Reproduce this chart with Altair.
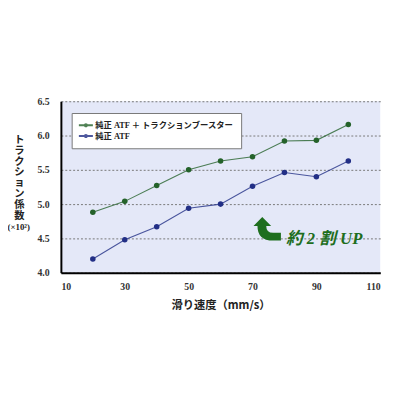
import altair as alt
import pandas as pd

speeds = [20, 30, 40, 50, 60, 70, 80, 90, 100]
booster = [4.88, 5.04, 5.27, 5.50, 5.63, 5.69, 5.92, 5.93, 6.16]
atf = [4.20, 4.48, 4.67, 4.94, 5.00, 5.26, 5.46, 5.40, 5.63]
series = ["純正 ATF ＋ トラクションブースター", "純正 ATF"]
colors = ["#24622a", "#222f86"]
x_ticks = [10, 30, 50, 70, 90, 110]
y_ticks = [4.0, 4.5, 5.0, 5.5, 6.0, 6.5]
y_title_chars = list("トラクション係数")

rows = []
for s, vals in zip(series, [booster, atf]):
    for x, y in zip(speeds, vals):
        rows.append({"speed": x, "coef": y, "series": s})
df = pd.DataFrame(rows)

SERIF = "Liberation Serif, Noto Sans CJK JP"
CJK = "Noto Sans CJK JP"

xs = alt.Scale(domain=[10, 110], nice=False, zero=False)
ys = alt.Scale(domain=[4.0, 6.5], nice=False, zero=False)

legend_path = "M-1.6,0L1.6,0M0.25,0A0.25,0.25 0 1,1 -0.25,0A0.25,0.25 0 1,1 0.25,0"

color = alt.Color(
    "series:N",
    scale=alt.Scale(domain=series, range=colors),
    legend=alt.Legend(
        title=None, orient="none", legendX=11, legendY=12,
        fillColor="white", strokeColor="#777777", padding=7,
        labelFont=SERIF, labelFontSize=8.5, labelFontWeight="bold", labelColor="#222222",
        symbolType=legend_path, symbolSize=80, symbolStrokeWidth=2.0,
        rowPadding=0, labelLimit=300, symbolOffset=2,
    ),
)

x_axis = alt.Axis(
    values=x_ticks, grid=False, ticks=False, domainColor="black", domainWidth=2,
    labelFont=SERIF, labelFontWeight="bold", labelFontSize=10, labelColor="#333333",
    labelPadding=9, labelOverlap=False,
    title="滑り速度（mm/s）", titleFont=CJK, titleFontWeight="bold",
    titleFontSize=11.5, titleColor="#222222", titlePadding=9,
)
y_axis = alt.Axis(
    values=y_ticks, format=".1f", ticks=False, domainColor="black", domainWidth=2,
    grid=True, gridDash=[2, 2], gridColor="#777777", gridWidth=1,
    labelFont=SERIF, labelFontWeight="bold", labelFontSize=10, labelColor="#333333",
    labelPadding=12, labelOverlap=False, labelFlush=False,
    title=y_title_chars, titleAngle=0, titleFont=CJK, titleFontWeight="bold",
    titleFontSize=10.5, titleColor="#222222", titleX=-43, titleY=34,
    titleBaseline="top", titleAlign="center", titleLineHeight=11.1,
)


def X(field):
    return alt.X(field, scale=xs, axis=x_axis)


def Y(field):
    return alt.Y(field, scale=ys, axis=y_axis)


lines = alt.Chart(df).mark_line(strokeWidth=1.1, opacity=0.8).encode(
    x=X("speed:Q"), y=Y("coef:Q"), color=color, detail="series:N"
)
points = alt.Chart(df).mark_point(filled=True, size=32, opacity=1).encode(
    x=X("speed:Q"), y=Y("coef:Q"), color=color
)

unit_label = alt.Chart(pd.DataFrame({"t": ["(×10²)"]})).mark_text(
    font=SERIF, fontSize=9, fontWeight="bold", color="#222222"
).encode(text="t:N", x=alt.value(-43), y=alt.value(128))

ann = pd.DataFrame({"x": [74.6], "y": [4.64], "tx": [80.5], "ty": [4.49], "t": ["約 2 割 UP"]})
arrow_path = ("M-0.36,-0.86L0.29,-0.21L-0.07,-0.21Q-0.07,0.29 0.43,0.29L1,0.29L1,0.86"
              "L0.43,0.86Q-0.71,0.86 -0.71,-0.21L-1,-0.21Z")
arrow = alt.Chart(ann).mark_point(
    shape=arrow_path, filled=True, size=784, color="#1e6e1e", opacity=1
).encode(x=X("x:Q"), y=Y("y:Q"))
ann_text = alt.Chart(ann).mark_text(
    font=SERIF, fontSize=17, fontWeight="bold", fontStyle="italic", color="#1e6e1e", align="left"
).encode(x=X("tx:Q"), y=Y("ty:Q"), text="t:N")

chart = alt.layer(lines, points, arrow, ann_text, unit_label).properties(
    width=326, height=175,
    padding={"left": 54, "top": 92, "right": 12, "bottom": 40},
    autosize=alt.AutoSizeParams(type="none"),
    background="white",
).configure_view(fill="#e4e8f8", stroke=None)

chart.save("out.html", embed_options={"renderer": "svg", "actions": False})
